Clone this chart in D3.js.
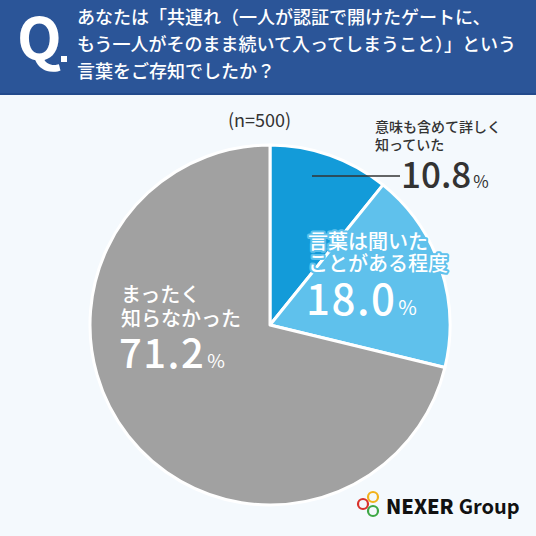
<!DOCTYPE html>
<html>
<head>
<meta charset="utf-8">
<script src="https://cdn.jsdelivr.net/npm/d3@7"></script>
<style>
  html, body { margin: 0; padding: 0; background: #f4f9fd; }
  svg { display: block; }
  text { font-family: "Noto Sans CJK JP", "Noto Sans", sans-serif; }
</style>
</head>
<body>
<div id="chart"></div>
<script>
// chart data
const categories = ['意味も含めて詳しく知っていた', '言葉は聞いたことがある程度', 'まったく知らなかった']
const labelLines = [
  ['意味も含めて詳しく', '知っていた'],
  ['言葉は聞いた', 'ことがある程度'],
  ['まったく', '知らなかった']
]
const values = [10.8, 18.0, 71.2]
const colors = ['#139bd9', '#5fc1ec', '#a1a1a1']
const sampleLabel = '(n=500)'
const questionLines = [
  'あなたは「共連れ（一人が認証で開けたゲートに、',
  'もう一人がそのまま続いて入ってしまうこと）」という',
  '言葉をご存知でしたか？'
]

const width = 536
const height = 536

const svg = d3.select('#chart')
  .append('svg')
  .attr('width', width)
  .attr('height', height)

// background + header band
svg.append('rect').attr('width', width).attr('height', height).attr('fill', '#f4f9fd')
svg.append('rect').attr('width', width).attr('height', 95).attr('fill', '#2b5598')
svg.append('rect').attr('y', 93).attr('width', width).attr('height', 2).attr('fill', '#224a8c')

svg.append('text')
  .attr('x', 17).attr('y', 60)
  .attr('fill', '#fff')
  .attr('font-family', 'Roboto, sans-serif')
  .attr('font-size', 58)
  .attr('font-weight', 700)
  .text('Q')
svg.append('rect')
  .attr('x', 61).attr('y', 56).attr('width', 6).attr('height', 6)
  .attr('fill', '#fff')

const qText = svg.append('text')
  .attr('fill', '#fff')
  .attr('font-size', 18)
  .attr('font-weight', 500)
qText.selectAll('tspan')
  .data(questionLines)
  .join('tspan')
  .attr('x', 77)
  .attr('y', (d, i) => 24 + i * 27)
  .text(d => d)

// pie
const cx = 270
const cy = 325
const radius = 180

const pie = d3.pie().sort(null).value(d => d)
const arc = d3.arc().innerRadius(0).outerRadius(radius)
const arcs = pie(values)

const pieG = svg.append('g').attr('transform', `translate(${cx},${cy})`)
pieG.selectAll('path')
  .data(arcs)
  .join('path')
  .attr('d', arc)
  .attr('fill', (d, i) => colors[i])
  .attr('stroke', '#fff')
  .attr('stroke-width', 3)
  .attr('stroke-linejoin', 'round')

svg.append('text')
  .attr('x', 228).attr('y', 127)
  .attr('fill', '#333')
  .attr('font-size', 18)
  .text(sampleLabel)

// label block: category lines + big number with small %
function addLabel (opts) {
  const t = svg.append('text')
    .attr('fill', opts.color)
    .attr('font-weight', 500)
  if (opts.halo) {
    t.attr('stroke', opts.halo)
      .attr('stroke-width', 4)
      .attr('stroke-linejoin', 'round')
      .attr('paint-order', 'stroke')
  }
  opts.lines.forEach((line, i) => {
    t.append('tspan')
      .attr('x', opts.x)
      .attr('y', opts.y + i * opts.lineGap)
      .attr('font-size', opts.catSize)
      .text(line)
  })
  t.append('tspan')
    .attr('x', opts.numX)
    .attr('y', opts.numY)
    .attr('font-size', opts.numSize)
    .attr('letter-spacing', opts.spacing)
    .text(opts.value.toFixed(1))
  t.append('tspan')
    .attr('dx', 2)
    .attr('font-size', opts.numSize * 0.48)
    .attr('letter-spacing', 0)
    .attr('font-weight', 400)
    .text('%')
}

// 10.8% label sits outside with leader line
svg.append('line')
  .attr('x1', cx + 42)
  .attr('y1', 176)
  .attr('x2', 400)
  .attr('y2', 176)
  .attr('stroke', '#333')
  .attr('stroke-width', 1.5)

addLabel({
  lines: labelLines[0],
  x: 375, y: 132, lineGap: 18, catSize: 14, color: '#333',
  numX: 401, numY: 188, numSize: 35, spacing: 0, value: values[0]
})

addLabel({
  lines: labelLines[1],
  x: 308, y: 249, lineGap: 22, catSize: 20, color: '#fff', halo: colors[1],
  numX: 306, numY: 315, numSize: 42, spacing: 1.5, value: values[1]
})

addLabel({
  lines: labelLines[2],
  x: 121, y: 302, lineGap: 24, catSize: 20, color: '#fff',
  numX: 119, numY: 368, numSize: 40, spacing: 1.5, value: values[2]
})

// logo
const logo = svg.append('g')
const rings = [
  { x: 373, y: 497, c: '#f2b21c' },
  { x: 363, y: 504, c: '#d9332c' },
  { x: 373, y: 511, c: '#3ea845' }
]
logo.selectAll('circle')
  .data(rings)
  .join('circle')
  .attr('cx', d => d.x)
  .attr('cy', d => d.y)
  .attr('r', 5)
  .attr('fill', 'none')
  .attr('stroke', d => d.c)
  .attr('stroke-width', 2.2)
const logoText = logo.append('text')
  .attr('x', 386).attr('y', 514)
  .attr('fill', '#111')
  .attr('font-size', 20)
logoText.append('tspan').attr('font-weight', 800).text('NEXER')
logoText.append('tspan').attr('font-weight', 700).attr('dx', 5).text('Group')
</script>
</body>
</html>
